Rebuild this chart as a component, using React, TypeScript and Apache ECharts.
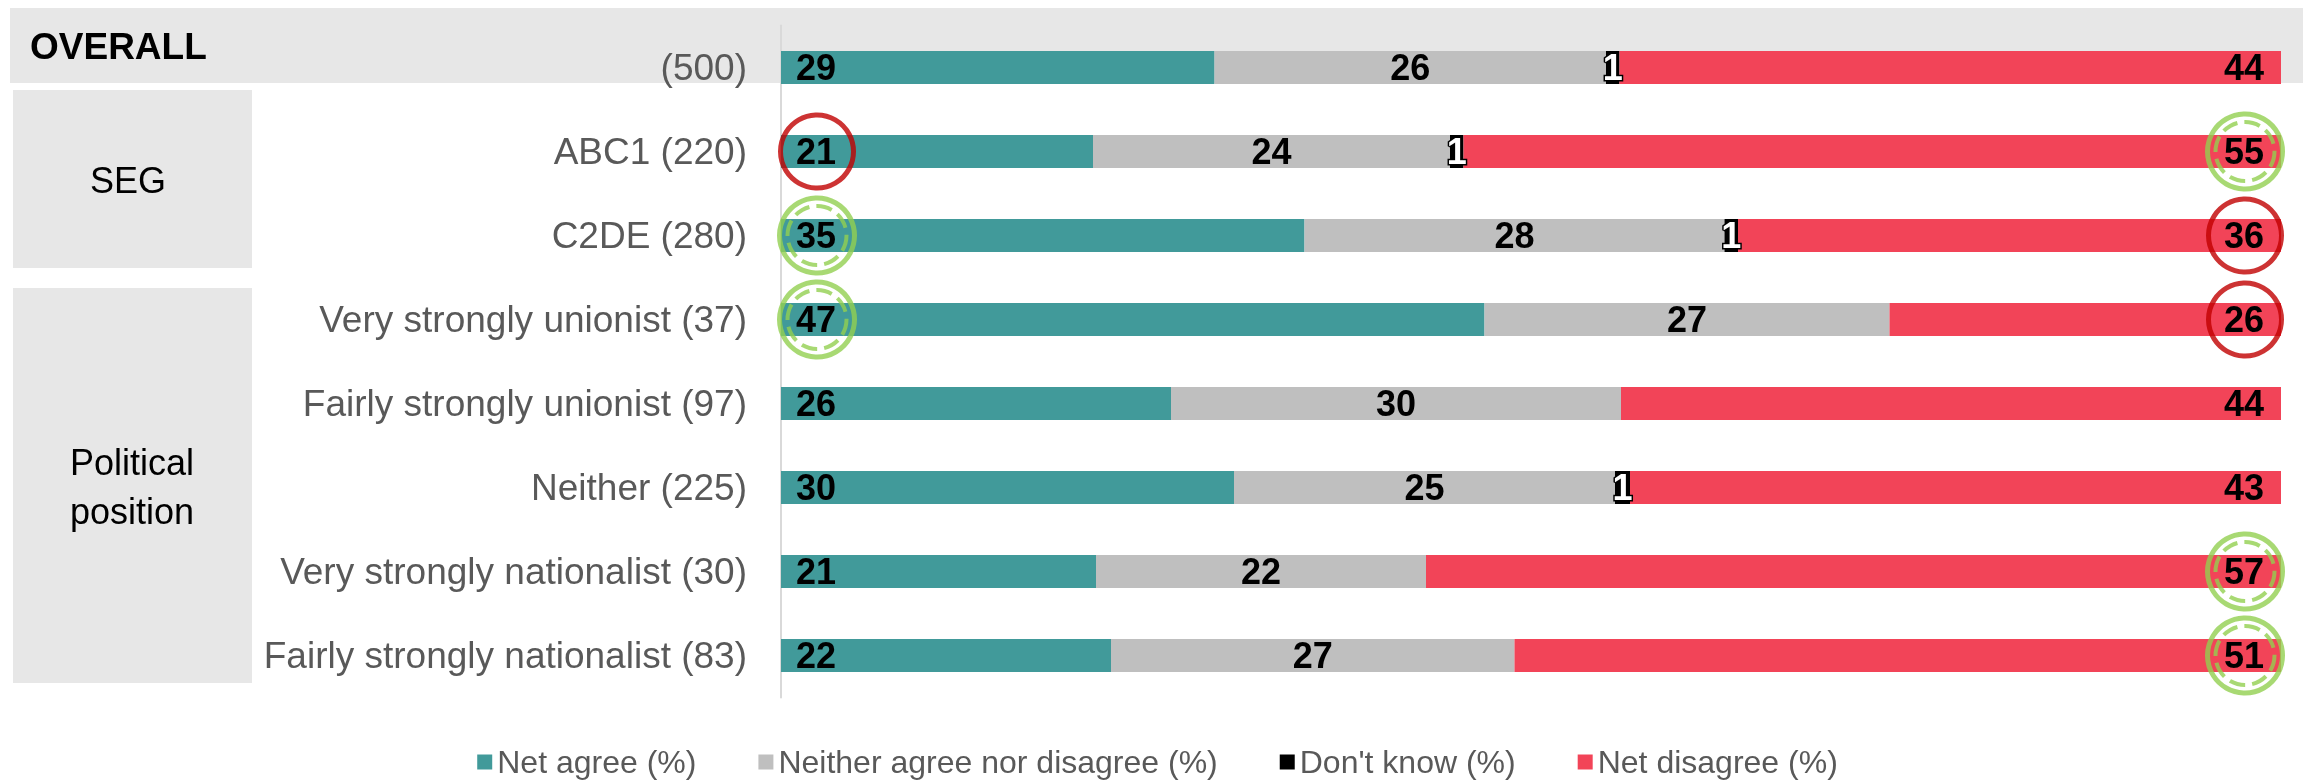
import React, { useEffect, useRef } from 'react';
import * as echarts from 'echarts';

const categories = [
  '(500)',
  'ABC1 (220)',
  'C2DE (280)',
  'Very strongly unionist (37)',
  'Fairly strongly unionist (97)',
  'Neither (225)',
  'Very strongly nationalist (30)',
  'Fairly strongly nationalist (83)',
];

const seriesNames = ['Net agree (%)', 'Neither agree nor disagree (%)', "Don't know (%)", 'Net disagree (%)'];
const seriesColors = ['#419A9A', '#BFBFBF', '#000000', '#F24458'];

const netAgree = [28.9, 20.8, 34.9, 46.9, 26.0, 30.2, 21.0, 22.0];
const neither = [26.1, 23.8, 28.0, 27.0, 30.0, 25.4, 22.0, 26.9];
const dontKnow = [0.9, 0.9, 0.9, 0, 0, 1.0, 0, 0];
const netDisagree = [44.1, 54.5, 36.2, 26.1, 44.0, 43.4, 57.0, 51.1];

// Annotation rings: [x value, category]
const redRings = [
  [2.4, 'ABC1 (220)'],
  [97.6, 'C2DE (280)'],
  [97.6, 'Very strongly unionist (37)'],
];
const greenRings = [
  [2.4, 'C2DE (280)'],
  [2.4, 'Very strongly unionist (37)'],
  [97.6, 'ABC1 (220)'],
  [97.6, 'Very strongly nationalist (30)'],
  [97.6, 'Fairly strongly nationalist (83)'],
];

const FONT = 'Liberation Sans, Arial, sans-serif';

export default function App() {
  const ref = useRef<HTMLDivElement>(null);
  useEffect(() => {
    if (!ref.current) return;
    const chart = echarts.init(ref.current, undefined, { renderer: 'svg' });
    const fmt = (p: any) => (p.value > 0 ? String(Math.round(p.value)) : '');
    const labelBase = { show: true, fontSize: 36, fontWeight: 'bold' as const, fontFamily: FONT, color: '#000', formatter: fmt };
    const values = [netAgree, neither, dontKnow, netDisagree];
    const labels = [
      { ...labelBase, position: 'insideLeft', distance: 15 },
      { ...labelBase, position: 'inside' },
      { ...labelBase, position: 'inside', color: '#fff', textBorderColor: '#000', textBorderWidth: 3 },
      { ...labelBase, position: 'insideRight', distance: 17 },
    ];
    const barSeries = values.map((v, i) => ({
      name: seriesNames[i],
      type: 'bar',
      stack: 'total',
      barWidth: 33,
      data: v,
      itemStyle: { color: seriesColors[i] },
      label: labels[i],
      z: 2,
    }));
    chart.setOption({
      animation: false,
      textStyle: { fontFamily: FONT },
      grid: { left: 781, right: 34, top: 25.5, height: 672, containLabel: false },
      xAxis: { type: 'value', min: 0, max: 100, show: false },
      yAxis: {
        type: 'category',
        data: categories,
        inverse: true,
        axisLine: { show: true, lineStyle: { color: '#D9D9D9', width: 2 } },
        axisTick: { show: false },
        axisLabel: { fontSize: 37, color: '#595959', margin: 34, fontFamily: FONT },
      },
      legend: {
        data: seriesNames,
        left: 'center',
        top: 741,
        icon: 'rect',
        itemWidth: 15,
        itemHeight: 15,
        itemGap: 62,
        textStyle: { fontSize: 32, color: '#595959', fontFamily: FONT },
      },
      graphic: [
        { type: 'rect', z: -10, silent: true, shape: { x: 10, y: 8, width: 2293, height: 75 }, style: { fill: '#E7E7E7' } },
        { type: 'rect', z: -10, silent: true, shape: { x: 13, y: 90, width: 239, height: 178 }, style: { fill: '#E7E7E7' } },
        { type: 'rect', z: -10, silent: true, shape: { x: 13, y: 288, width: 239, height: 395 }, style: { fill: '#E7E7E7' } },
        { type: 'text', z: 5, silent: true, x: 30, y: 46, style: { text: 'OVERALL', fontSize: 37, fontWeight: 'bold', fontFamily: FONT, fill: '#000', align: 'left', verticalAlign: 'middle' } },
        { type: 'text', z: 5, silent: true, x: 128, y: 180, style: { text: 'SEG', fontSize: 36, fontFamily: FONT, fill: '#000', align: 'center', verticalAlign: 'middle' } },
        { type: 'text', z: 5, silent: true, x: 132, y: 487, style: { text: 'Political\nposition', fontSize: 36, lineHeight: 49, fontFamily: FONT, fill: '#000', align: 'center', verticalAlign: 'middle' } },
      ],
      series: [
        ...barSeries,
        {
          name: 'redRing',
          type: 'scatter',
          silent: true,
          z: 5,
          symbol: 'circle',
          symbolSize: 73,
          data: redRings,
          itemStyle: { color: 'rgba(0,0,0,0)', borderColor: '#C00000', borderWidth: 5 },
        },
        {
          name: 'greenRingOuter',
          type: 'scatter',
          silent: true,
          z: 5,
          symbol: 'circle',
          symbolSize: 75,
          data: greenRings,
          itemStyle: { color: 'rgba(0,0,0,0)', borderColor: '#92D050', borderWidth: 5 },
        },
        {
          name: 'greenRingInner',
          type: 'scatter',
          silent: true,
          z: 5,
          symbol: 'circle',
          symbolSize: 59,
          data: greenRings,
          itemStyle: { color: 'rgba(0,0,0,0)', borderColor: '#92D050', borderWidth: 4, borderType: [16, 7] },
        },
      ],
    });
    return () => chart.dispose();
  }, []);
  return <div ref={ref} style={{ position: 'fixed', left: 0, top: 0, width: 2315, height: 782 }} />;
}
